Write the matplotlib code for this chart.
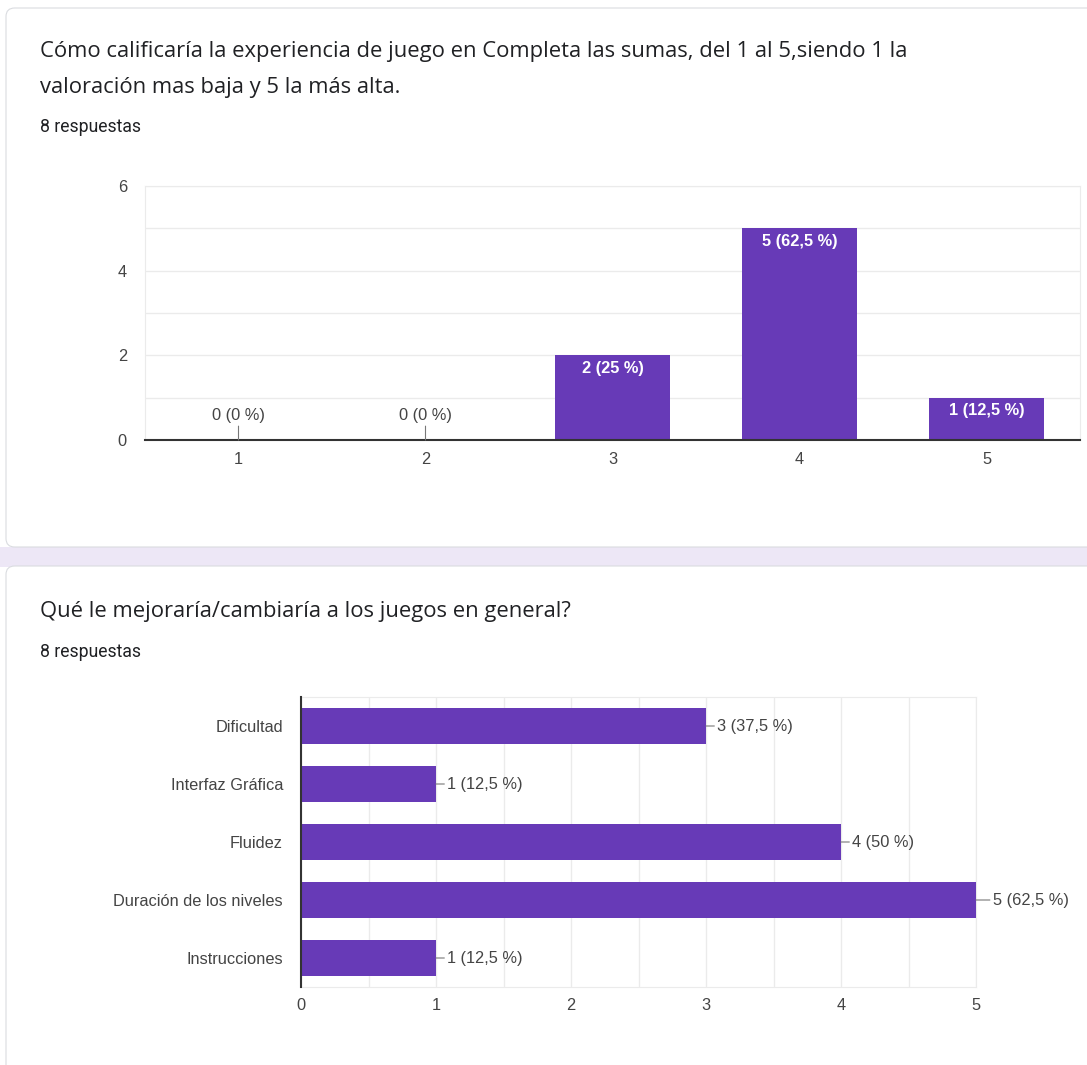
import matplotlib
matplotlib.use("Agg")
import matplotlib.pyplot as plt
from matplotlib.patches import FancyBboxPatch, Rectangle
from matplotlib import ticker

# data
rating_cats = ['1', '2', '3', '4', '5']
rating_counts = [0, 0, 2, 5, 1]
rating_labels = ['0 (0 %)', '0 (0 %)', '2 (25 %)', '5 (62,5 %)', '1 (12,5 %)']

improve_cats = ['Dificultad', 'Interfaz Gráfica', 'Fluidez', 'Duración de los niveles', 'Instrucciones']
improve_counts = [3, 1, 4, 5, 1]
improve_labels = ['3 (37,5 %)', '1 (12,5 %)', '4 (50 %)', '5 (62,5 %)', '1 (12,5 %)']

title1 = 'Cómo calificaría la experiencia de juego en Completa las sumas, del 1 al 5,siendo 1 la\nvaloración mas baja y 5 la más alta.'
title2 = 'Qué le mejoraría/cambiaría a los juegos en general?'
n_resp = '8 respuestas'

PURPLE = '#673ab7'
GRID = '#ebebeb'
TXT = '#444444'
LFONT = 'Liberation Sans'
FS = 11.8
W, H = 1087, 1065

fig = plt.figure(figsize=(W/100, H/100), dpi=100)
fig.patch.set_facecolor('white')

def fx(px): return px / W
def fy(py): return 1 - py / H

# page background strip and cards (behind the axes)
fig.patches.append(Rectangle((0, fy(567)), 1, (567-547)/H, transform=fig.transFigure,
                             facecolor='#ede7f6', edgecolor='none', zorder=-3))
for top, bot in [(8, 547), (566, 1080)]:
    fig.patches.append(FancyBboxPatch((fx(6), fy(bot)), fx(1200), (bot-top)/H,
                                      boxstyle='round,pad=0,rounding_size=0.008',
                                      transform=fig.transFigure, facecolor='white',
                                      edgecolor='#dadce0', linewidth=0.8, zorder=-2))

TFONT = 'Open Sans'
fig.text(fx(40), fy(52), title1.split('\n')[0], fontsize=15.8, family=TFONT, color='#202124', va='center')
fig.text(fx(40), fy(88), title1.split('\n')[1], fontsize=15.8, family=TFONT, color='#202124', va='center')
fig.text(fx(40), fy(127), n_resp, fontsize=12.7, family='Roboto', color='#202124', va='center')
fig.text(fx(40), fy(612), title2, fontsize=15.8, family=TFONT, color='#202124', va='center')
fig.text(fx(40), fy(652), n_resp, fontsize=12.7, family='Roboto', color='#202124', va='center')

# top chart: vertical bars
ax1 = fig.add_axes([fx(145), fy(440), fx(1080-145), (440-186)/H])
x = list(range(1, len(rating_cats)+1))
ax1.bar(x, rating_counts, width=0.615, color=PURPLE, zorder=3)
ax1.set_xlim(0.5, 5.5)
ax1.set_ylim(0, 6)
ax1.yaxis.set_major_locator(ticker.MultipleLocator(2))
ax1.yaxis.set_minor_locator(ticker.MultipleLocator(1))
ax1.grid(axis='y', which='both', color=GRID, linewidth=1, zorder=0)
ax1.set_xticks(x)
ax1.set_xticklabels(rating_cats)
for s in ['top', 'right', 'left']:
    ax1.spines[s].set_color(GRID)
ax1.spines['bottom'].set_color('#333333')
ax1.spines['bottom'].set_linewidth(1.5)
ax1.spines['bottom'].set_zorder(4)
ax1.tick_params(which='both', length=0, labelsize=FS, colors=TXT, pad=9)
ax1.tick_params(axis='y', pad=13)
for xi, v, lab in zip(x, rating_counts, rating_labels):
    if v > 0:
        ax1.annotate(lab, (xi, v), xytext=(0, -4), textcoords='offset points',
                     ha='center', va='top', color='white', fontsize=FS, fontweight='bold',
                     family=LFONT, zorder=5)
    else:
        ax1.annotate(lab, (xi, v), xytext=(0, 12), textcoords='offset points',
                     ha='center', va='bottom', color=TXT, fontsize=FS,
                     family=LFONT, zorder=5,
                     arrowprops=dict(arrowstyle='-', color='#777777', lw=0.8,
                                     shrinkA=0, shrinkB=0))
for lab in ax1.get_xticklabels() + ax1.get_yticklabels():
    lab.set_family(LFONT)

# bottom chart: horizontal bars
ax2 = fig.add_axes([fx(301), fy(987), fx(976-301), (987-697)/H])
y = list(range(len(improve_cats)))
ax2.barh(y, improve_counts, height=0.62, color=PURPLE, zorder=3)
ax2.set_ylim(len(improve_cats)-0.5, -0.5)
ax2.set_xlim(0, 5)
ax2.xaxis.set_major_locator(ticker.MultipleLocator(1))
ax2.xaxis.set_minor_locator(ticker.MultipleLocator(0.5))
ax2.grid(axis='x', which='both', color=GRID, linewidth=1, zorder=0)
ax2.set_yticks(y)
ax2.set_yticklabels(improve_cats)
for s in ['top', 'right', 'bottom']:
    ax2.spines[s].set_color(GRID)
ax2.spines['left'].set_color('#333333')
ax2.spines['left'].set_linewidth(1.5)
ax2.spines['left'].set_zorder(4)
ax2.tick_params(which='both', length=0, labelsize=FS, colors=TXT)
ax2.tick_params(axis='y', pad=13)
ax2.tick_params(axis='x', pad=8)
for yi, v, lab in zip(y, improve_counts, improve_labels):
    ax2.annotate(lab, (v, yi), xytext=(8 if v < 5 else 12, 0), textcoords='offset points',
                 ha='left', va='center', color=TXT, fontsize=FS,
                 family=LFONT, zorder=5, annotation_clip=False,
                 arrowprops=dict(arrowstyle='-', color='#777777', lw=0.8,
                                 shrinkA=0, shrinkB=0))
for lab in ax2.get_xticklabels() + ax2.get_yticklabels():
    lab.set_family(LFONT)

fig.savefig('out.png', dpi=100, facecolor=fig.get_facecolor())
